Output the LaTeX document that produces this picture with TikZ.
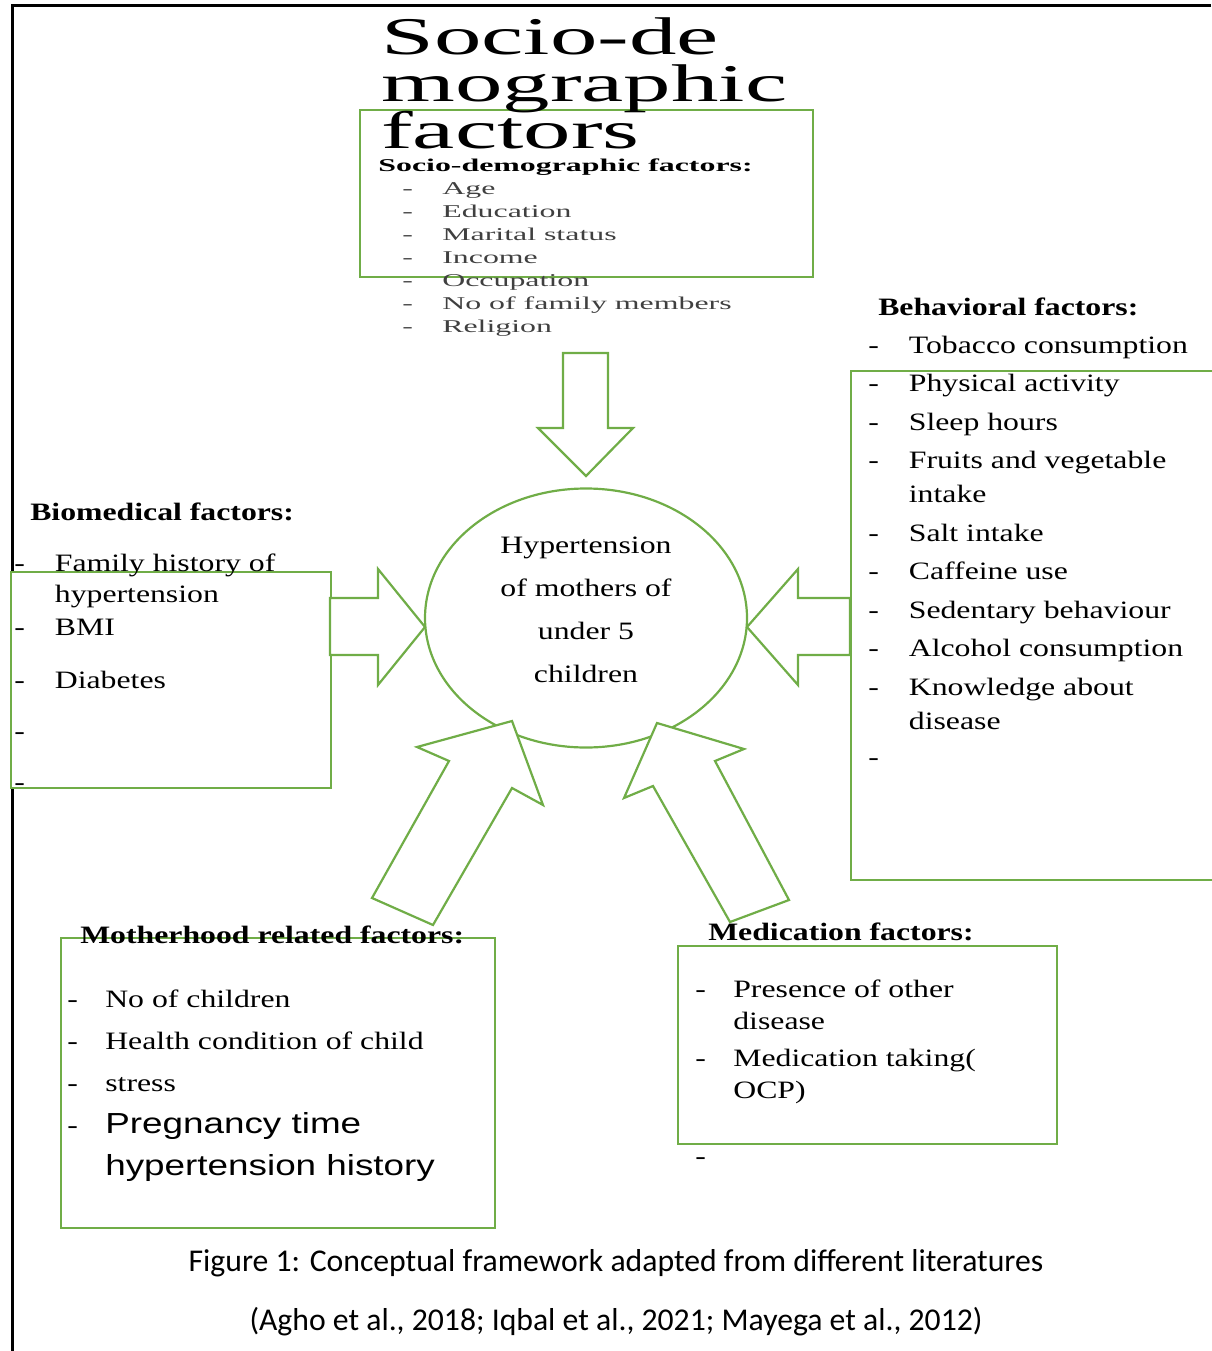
\documentclass[tikz,border=0pt]{standalone}
\usepackage{fontspec}
\setmainfont{Liberation Serif}
\newfontfamily\armfont{Liberation Sans}
\newfontfamily\capfont{Carlito}
\usetikzlibrary{shapes.geometric}
\definecolor{boxgreen}{RGB}{112,173,71}

\begin{document}
\begin{tikzpicture}[x=1pt,y=-1pt]
        \tikzset{gbox/.style = {draw=boxgreen, line width=2.2pt, fill=white, anchor=north west, inner sep=0pt}}
        \tikzset{blockarrow/.style = {draw=boxgreen, line width=2.2pt, fill=white}}
        \tikzset{heading/.style = {anchor=base west, inner sep=0pt, font=\bfseries\fontsize{25}{30}\selectfont, xscale=1.27}}
        \tikzset{listtext/.style = {anchor=base west, inner sep=0pt, font=\fontsize{25}{#1}\selectfont, xscale=1.27}}
        \tikzset{soctext/.style = {anchor=base west, inner sep=0pt, font=\fontsize{18}{23}\selectfont, xscale=1.77}}
        \useasboundingbox (0,0) rectangle (1211,1351);
        % frame
        \draw[line width=3pt] (1211,6) -- (12.5,6) -- (12.5,1351);
        % boxes
        \node[gbox, minimum width=453, minimum height=167] (socbox) at (359,109) {};
        \node[gbox, minimum width=320, minimum height=216] (biobox) at (10,571) {};
        \node[gbox, minimum width=370, minimum height=509] (behbox) at (850,370) {};
        \node[gbox, minimum width=434, minimum height=290] (motbox) at (60,937) {};
        \node[gbox, minimum width=379, minimum height=198] (medbox) at (677,945) {};
        % centre
        \node[draw=boxgreen, line width=2.2pt, ellipse, minimum width=322, minimum height=259, inner sep=0pt] (ctr) at (586,618) {};
        % arrows
        \draw[blockarrow] (563,353) -- (608,353) -- (608,428) -- (633,428) -- (586,476) -- (538,428) -- (563,428) -- cycle;
        \draw[blockarrow] (330,598) -- (378,598) -- (378,569) -- (425,627) -- (378,685) -- (378,655) -- (330,655) -- cycle;
        \draw[blockarrow] (850,598) -- (798,598) -- (798,569) -- (747,627) -- (798,685) -- (798,655) -- (850,655) -- cycle;
        \draw[blockarrow] (372,898) -- (449,761) -- (417,747) -- (512,721) -- (543,805) -- (512,788) -- (433,925) -- cycle;
        \draw[blockarrow] (789,900) -- (715,761) -- (744,749) -- (657,723) -- (624,798) -- (653,786) -- (730,922) -- cycle;
        % socio-demographic
        \node[anchor=base west, inner sep=0pt, font=\fontsize{53}{46}\selectfont, xscale=1.79] (title) at (381,55)
            {\begin{tabular}[t]{@{}l@{}}Socio-de\\[-4pt]mographic\\[-4pt]factors\end{tabular}};
        \node[soctext, font=\bfseries\fontsize{18}{23}\selectfont] (sochead) at (378,172) {Socio-demographic factors:};
        \node[soctext, text=black!75] (soclist) at (402,195) {\begin{tabular}[t]{@{}p{22.6pt}@{}l@{}}
            - & Age\\ - & Education\\ - & Marital status\\ - & Income\\ - & Occupation\\ - & No of family members\\ - & Religion
            \end{tabular}};
        % biomedical
        \node[heading] (biohead) at (30,520) {Biomedical factors:};
        \node[listtext=31] (biolist) at (14,571) {\begin{tabular}[t]{@{}p{32pt}@{}l@{}}
            - & Family history of\\ & hypertension\\[2pt] - & BMI\\[22pt] - & Diabetes\\[20pt] - & \\[20pt] - &
            \end{tabular}};
        % behavioral
        \node[heading] (behhead) at (878,315) {Behavioral factors:};
        \node[listtext=34] (behlist) at (868,353) {\begin{tabular}[t]{@{}p{32pt}@{}l@{}}
            - & Tobacco consumption\\[4.5pt] - & Physical activity\\[4.5pt] - & Sleep hours\\[4.5pt]
            - & Fruits and vegetable\\ & intake\\[4.5pt] - & Salt intake\\[4.5pt] - & Caffeine use\\[4.5pt]
            - & Sedentary behaviour\\[4.5pt] - & Alcohol consumption\\[4.5pt] - & Knowledge about\\ & disease\\[2pt] - &
            \end{tabular}};
        % motherhood
        \node[heading] (mothead) at (80,943) {Motherhood related factors:};
        \node[listtext=42] (motlist) at (67,1007) {\begin{tabular}[t]{@{}p{30pt}@{}l@{}}
            - & No of children\\ - & Health condition of child\\ - & stress\\
            - & {\armfont\fontsize{29}{42}\selectfont Pregnancy time}\\ & {\armfont\fontsize{29}{42}\selectfont hypertension history}
            \end{tabular}};
        % medication
        \node[heading] (medhead) at (708,940) {Medication factors:};
        \node[listtext=32] (medlist) at (695,997) {\begin{tabular}[t]{@{}p{30pt}@{}l@{}}
            - & Presence of other\\ & disease\\[5pt] - & Medication taking(\\ & OCP)\\[34pt] - &
            \end{tabular}};
        % centre text
        \node[anchor=base, inner sep=0pt, font=\fontsize{25}{43}\selectfont, xscale=1.27] (ctrtext) at (586,553)
            {\begin{tabular}[t]{@{}c@{}}Hypertension\\of mothers of\\under 5\\children\end{tabular}};
        % caption
        \node[anchor=base, inner sep=0pt, font=\capfont\fontsize{31.7}{59}\selectfont] (caption) at (616,1271)
            {\begin{tabular}[t]{@{}c@{}}Figure 1: Conceptual framework adapted from different literatures\\(Agho et al., 2018; Iqbal et al., 2021; Mayega et al., 2012)\end{tabular}};
\end{tikzpicture}
\end{document}
